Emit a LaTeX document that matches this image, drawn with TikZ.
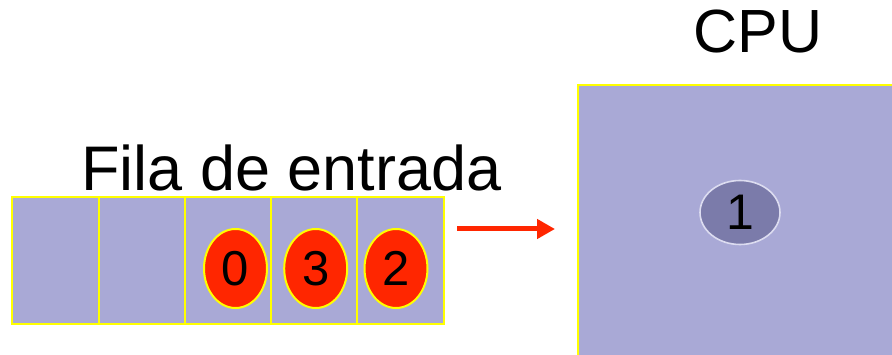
\documentclass[tikz,border=0pt]{standalone}
\usepackage{fontspec}
\setmainfont{Liberation Sans}
\usetikzlibrary{shapes.geometric,arrows.meta}
\definecolor{qfill}{HTML}{A9A9D6}
\definecolor{yel}{HTML}{FFFF00}
\definecolor{red}{HTML}{FF2600}
\definecolor{cpuel}{HTML}{7B7BAA}
\definecolor{cpuelb}{HTML}{DCDCF0}
\tikzset{
  cell/.style={draw=yel, fill=qfill, line width=2pt, minimum width=86.3pt, minimum height=127pt, inner sep=0pt},
  proc/.style={ellipse, draw=yel, fill=red, line width=2pt, minimum width=63pt, minimum height=79pt, inner sep=0pt, font=\fontsize{49}{56}\selectfont},
  title/.style={anchor=base, inner sep=0pt, font=\fontsize{61}{72}\selectfont},
  arr/.style={draw=red, line width=5pt, -{Triangle[length=18pt,width=19pt]}}
}
\begin{document}
\begin{tikzpicture}[x=1pt,y=-1pt]
\useasboundingbox (0,0) rectangle (892,355);
\clip (0,0) rectangle (892,355);
% CPU box
\node[draw=yel, fill=qfill, line width=2pt, anchor=north west, minimum width=330pt, minimum height=290pt, inner sep=0pt] (cpu) at (577.3,84.3) {};
\node[ellipse, draw=cpuelb, fill=cpuel, line width=1.6pt, minimum width=80pt, minimum height=64pt, inner sep=0pt, font=\fontsize{50}{58}\selectfont] (p1) at (740,212.5) {\raisebox{-2.5pt}{1}};
\node[title] (cputitle) at (758,53) {CPU};
% queue
\foreach \i in {0,...,4}{
  \node[cell] (c\i) at ({12.2+86.3*(\i+0.5)},260.7) {};
}
\node[title, font=\fontsize{63}{74}\selectfont] (filatitle) at (291.5,191) {Fila de entrada};
\node[proc] (p0) at (235.5,268.5) {\raisebox{-4pt}{0}};
\node[proc] (p3) at (315.7,268.5) {\raisebox{-4pt}{3}};
\node[proc] (p2) at (396,268.5) {\raisebox{-4pt}{2}};
% arrow
\coordinate (a1) at (457,229);
\coordinate (a2) at (555,229);
\draw[arr] (a1) -- (a2);
\end{tikzpicture}
\end{document}
